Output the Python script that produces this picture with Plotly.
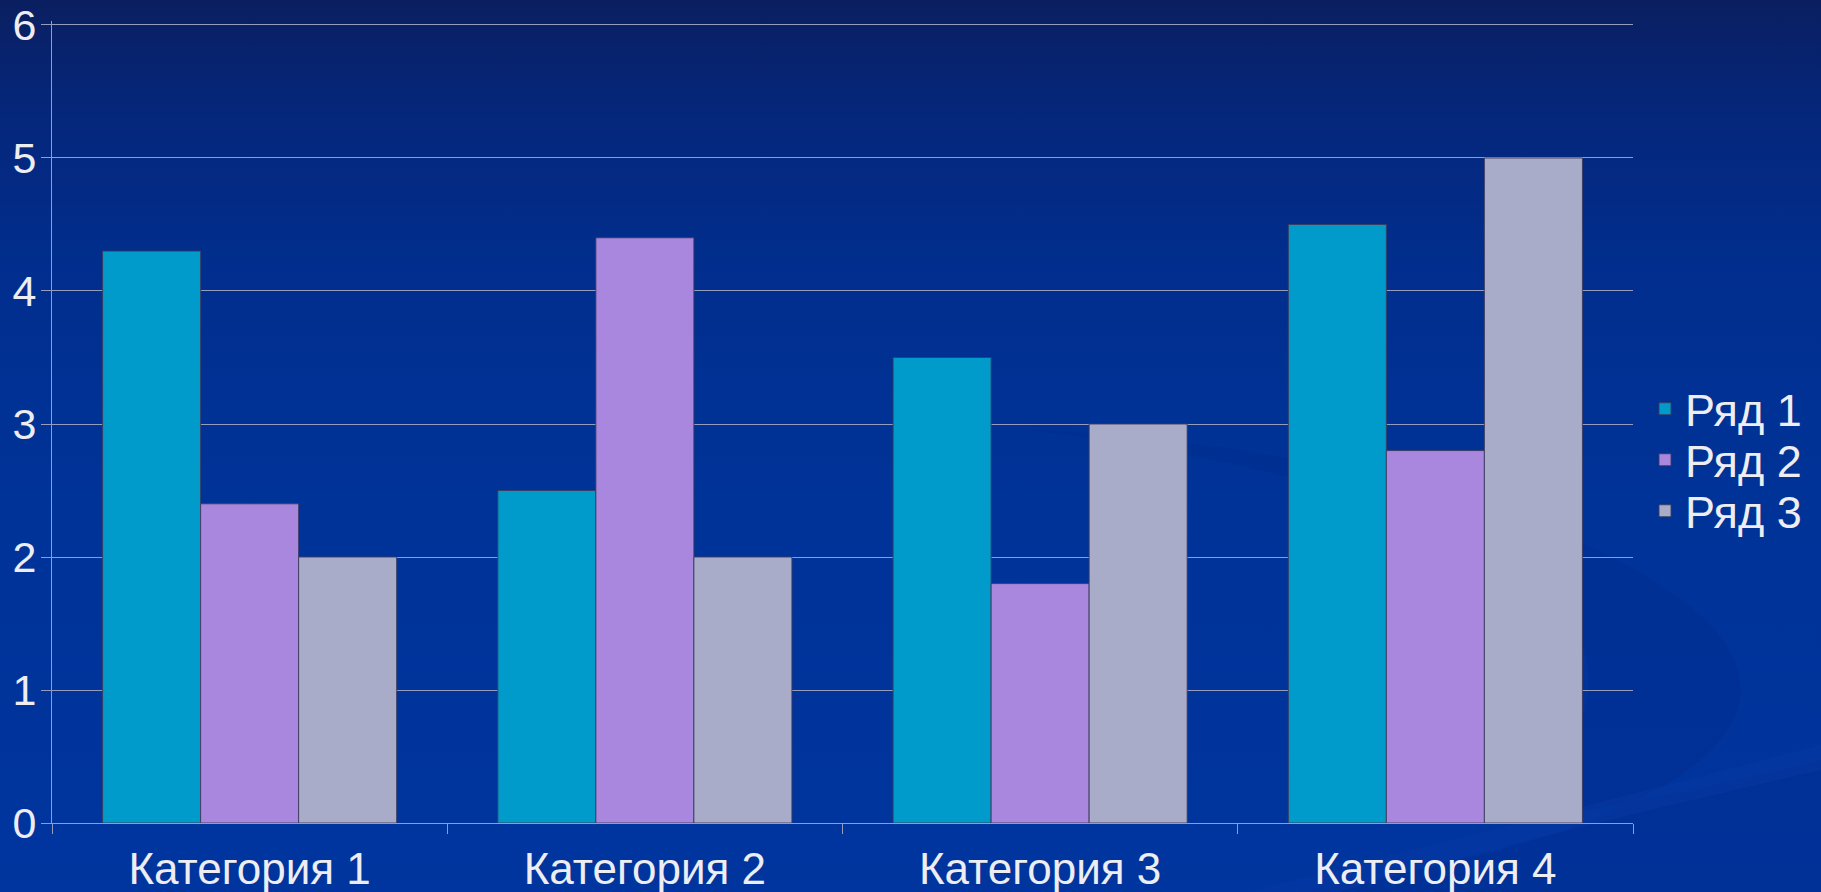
import base64
import plotly.graph_objects as go

categories = ["Категория 1", "Категория 2", "Категория 3", "Категория 4"]
series_names = ["Ряд 1", "Ряд 2", "Ряд 3"]
row1 = [4.3, 2.5, 3.5, 4.5]
row2 = [2.4, 4.4, 1.8, 2.8]
row3 = [2.0, 2.0, 3.0, 5.0]
series_values = [row1, row2, row3]
series_colors = ["#009ACB", "#A987DF", "#A9ACC8"]
y_ticks = [0, 1, 2, 3, 4, 5, 6]
y_range = [0, 6.03]

W, H = 1821, 892
ML, MR, MT, MB = 52, 188, 21, 69
PW, PH = W - ML - MR, H - MT - MB

FONT = "Liberation Sans, Arial, sans-serif"
TXT = "#EDEDF2"
GRID = "#959CBE"

svg = f"""<svg xmlns='http://www.w3.org/2000/svg' width='{W}' height='{H}' viewBox='0 0 {W} {H}' preserveAspectRatio='none'>
<defs>
<linearGradient id='g' x1='0' y1='0' x2='0' y2='1'>
<stop offset='0' stop-color='#0A1F60'/>
<stop offset='0.12' stop-color='#05267A'/>
<stop offset='0.3' stop-color='#012E8E'/>
<stop offset='0.55' stop-color='#003398'/>
<stop offset='1' stop-color='#00359F'/>
</linearGradient>
</defs>
<rect x='0' y='0' width='{W}' height='{H}' fill='url(#g)'/>
<path d='M1030,430 C1350,440 1760,560 1740,700 C1720,800 1500,860 1300,892 L1821,892 L1821,760 C1650,800 1560,820 1480,820 C1600,760 1640,640 1500,560 C1380,490 1200,450 1030,430 Z' fill='#002D8E' fill-opacity='0.45'/>
<path d='M1250,892 C1450,840 1650,790 1821,745 L1821,770 C1650,810 1480,850 1340,892 Z' fill='#0A3AA6' fill-opacity='0.4'/>
</svg>"""
svg_uri = "data:image/svg+xml;base64," + base64.b64encode(svg.encode("utf-8")).decode("ascii")

fig = go.Figure()
legend_ids = ["legend", "legend2", "legend3"]
for name, vals, col, lg in zip(series_names, series_values, series_colors, legend_ids):
    fig.add_trace(go.Bar(
        x=categories, y=vals, name=name,
        marker=dict(color=col, line=dict(color="rgba(60,60,95,0.9)", width=1)),
        legend=lg,
    ))

leg_centers_px = [409, 460, 511]
leg_x = (1645 - ML) / PW
legend_common = dict(
    x=leg_x, xanchor="left", yanchor="middle",
    bgcolor="rgba(0,0,0,0)", borderwidth=0,
    font=dict(family=FONT, size=45, color=TXT),
)
layout_legends = {}
for lg, cy in zip(legend_ids, leg_centers_px):
    d = dict(legend_common)
    d["y"] = (MT + PH - cy) / PH
    layout_legends[lg] = d

fig.update_layout(
    width=W, height=H,
    margin=dict(l=ML, r=MR, t=MT, b=MB, autoexpand=False),
    paper_bgcolor="#003399",
    plot_bgcolor="rgba(0,0,0,0)",
    barmode="group", bargap=0.256, bargroupgap=0,
    showlegend=True,
    font=dict(family=FONT, color=TXT),
    images=[dict(
        source=svg_uri, xref="paper", yref="paper",
        x=-ML / PW, y=1 + MT / PH, sizex=W / PW, sizey=H / PH,
        xanchor="left", yanchor="top", sizing="stretch", layer="below",
    )],
    xaxis=dict(
        type="category", categoryorder="array", categoryarray=categories,
        showgrid=False, showline=True, linecolor=GRID, linewidth=1,
        ticks="outside", tickson="boundaries", ticklen=10, tickcolor=GRID,
        ticklabelstandoff=7,
        tickfont=dict(family=FONT, size=44, color=TXT), automargin=False,
    ),
    yaxis=dict(
        range=y_range, tickvals=y_ticks, showgrid=True, gridcolor=GRID, gridwidth=1,
        zeroline=False, showline=True, linecolor=GRID, linewidth=1,
        ticks="outside", ticklen=10, tickcolor=GRID,
        ticklabelstandoff=-4,
        tickfont=dict(family=FONT, size=43, color=TXT), automargin=False,
    ),
    **layout_legends,
)

fig.write_html(
    "out.html",
    config={"displayModeBar": False},
    post_script="document.body.style.margin='0';document.body.style.overflow='hidden';",
)
